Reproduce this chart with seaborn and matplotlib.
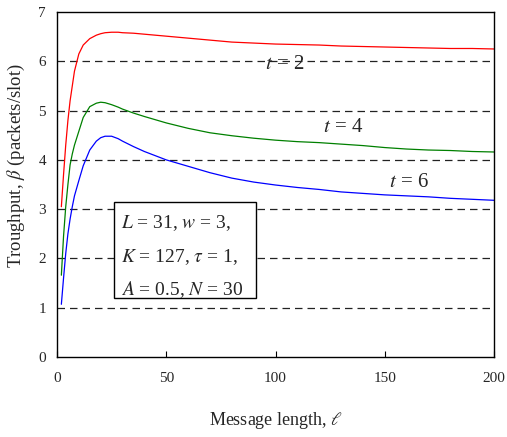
import matplotlib
matplotlib.use("Agg")
import matplotlib.pyplot as plt
import numpy as np
import pandas as pd
import seaborn as sns
from matplotlib.patches import Rectangle

# Message lengths (l) at which throughput was evaluated
ell = [2, 3, 4, 5, 6, 7, 8, 10, 12, 15, 18, 20, 22, 25, 28, 30, 35, 40, 50, 60,
       70, 80, 90, 100, 110, 120, 130, 140, 150, 160, 170, 180, 190, 200]

# Throughput beta (packets/slot) for each threshold t
beta_t2 = [3.05, 3.70, 4.30, 4.80, 5.20, 5.50, 5.80, 6.15, 6.33, 6.46, 6.53, 6.56,
           6.58, 6.59, 6.59, 6.58, 6.57, 6.55, 6.51, 6.47, 6.43, 6.39, 6.37, 6.35,
           6.34, 6.33, 6.31, 6.30, 6.29, 6.28, 6.27, 6.26, 6.26, 6.25]
beta_t4 = [1.66, 2.45, 3.05, 3.50, 3.90, 4.12, 4.30, 4.58, 4.86, 5.08, 5.15, 5.17,
           5.16, 5.12, 5.07, 5.03, 4.95, 4.88, 4.75, 4.64, 4.55, 4.49, 4.44, 4.40,
           4.37, 4.35, 4.32, 4.29, 4.25, 4.22, 4.20, 4.19, 4.17, 4.16]
beta_t6 = [1.07, 1.60, 2.10, 2.50, 2.80, 3.05, 3.27, 3.58, 3.88, 4.20, 4.38, 4.45,
           4.48, 4.48, 4.43, 4.38, 4.27, 4.17, 4.00, 3.87, 3.74, 3.63, 3.55, 3.49,
           3.44, 3.40, 3.35, 3.32, 3.29, 3.27, 3.25, 3.22, 3.20, 3.18]

series_names = ["t2", "t4", "t6"]
series_labels = ["$t$ = 2", "$t$ = 4", "$t$ = 6"]
series_colors = ["#ff0000", "#008000", "#0000ff"]
x_ticks = [0, 50, 100, 150, 200]
y_ticks = [0, 1, 2, 3, 4, 5, 6, 7]
param_lines = ["$L$ = 31, $w$ = 3,", "$K$ = 127, $\\tau$ = 1,", "$A$ = 0.5, $N$ = 30"]

df = pd.DataFrame({
    "ell": ell * 3,
    "beta": beta_t2 + beta_t4 + beta_t6,
    "series": [n for n in series_names for _ in ell],
})

sns.set_theme(style="white")
plt.rcParams["font.family"] = ["Liberation Serif", "DejaVu Serif"]
plt.rcParams["mathtext.fontset"] = "stix"

fig = plt.figure(figsize=(5.07, 4.37), dpi=100)
ax = fig.add_axes([0.1124, 0.183, 0.862, 0.7895])

sns.lineplot(data=df, x="ell", y="beta", hue="series", hue_order=series_names,
             palette=series_colors, linewidth=0.9, legend=False, ax=ax)

ax.set_xlim(0, 200)
ax.set_ylim(0, 7)
ax.set_xticks(x_ticks)
ax.set_yticks(y_ticks)

# dashed horizontal reference lines
for yv in y_ticks[1:-1]:
    ax.axhline(yv, color="#222222", linewidth=0.9, linestyle=(0, (6, 4)), zorder=0)

for sp in ax.spines.values():
    sp.set_color("black")
    sp.set_linewidth(1.0)
    sp.set_visible(True)

ax.tick_params(axis="x", direction="in", length=4, width=0.8, color="black",
               labelsize=11, pad=11, bottom=True)
ax.tick_params(axis="y", length=0, labelsize=11, pad=8, left=True)

ax.set_xlabel(r"Message length, $\ell$", fontsize=13, labelpad=18)
ax.set_ylabel(r"Troughput, $\beta$ (packets/slot)", fontsize=13.5)
ax.yaxis.set_label_coords(-0.069, 0.554)

# curve annotations
for (lx, ly), s in zip([(104.2, 5.84), (130.8, 4.57), (161, 3.45)], series_labels):
    ax.text(lx, ly, s, fontsize=15, ha="center", va="baseline")

# parameter box
ax.add_patch(Rectangle((26.1, 1.20), 64.9, 1.95, facecolor="white",
                       edgecolor="black", linewidth=1.0, zorder=3))
for yv, s in zip([2.72, 2.03, 1.36], param_lines):
    ax.text(29.4, yv, s, fontsize=14, ha="left", va="center", zorder=4)

fig.savefig("out.png", dpi=100)
